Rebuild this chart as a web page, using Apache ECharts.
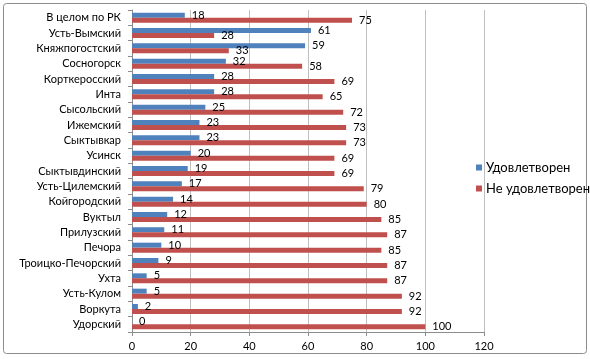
<!DOCTYPE html>
<html><head><meta charset="utf-8">
<script src="https://cdn.jsdelivr.net/npm/echarts@6/dist/echarts.min.js"></script>
<style>html,body{margin:0;padding:0;background:#fff}#c{width:590px;height:359px}</style>
</head><body><div id="c"></div>
<script>
const categories = ["В целом по РК","Усть-Вымский","Княжпогостский","Сосногорск","Корткеросский","Инта","Сысольский","Ижемский","Сыктывкар","Усинск","Сыктывдинский","Усть-Цилемский","Койгородский","Вуктыл","Прилузский","Печора","Троицко-Печорский","Ухта","Усть-Кулом","Воркута","Удорский"];
const satisfied = [18,61,59,32,28,28,25,23,23,20,19,17,14,12,11,10,9,5,5,2,0];
const notSatisfied = [75,28,33,58,69,65,72,73,73,69,69,79,80,85,87,85,87,87,92,92,100];
const xTicks = {min:0, max:120, interval:20};
const FONT = 'Lato';
const chart = echarts.init(document.getElementById('c'));
chart.setOption({
  animation:false,
  textStyle:{fontFamily:FONT},
  graphic:[{type:'rect',shape:{x:3.5,y:3.5,width:583,height:350,r:3},style:{fill:'none',stroke:'#8c8c8c',lineWidth:1},silent:true}],
  grid:{left:132,right:106,top:10,bottom:27},
  legend:{orient:'vertical',left:476,top:161,padding:0,itemWidth:6,itemHeight:6,itemGap:8,icon:'rect',
    textStyle:{fontFamily:FONT,fontSize:13,color:'#000',padding:[0,0,0,-1]},
    data:['Удовлетворен','Не удовлетворен']},
  xAxis:{type:'value',min:xTicks.min,max:xTicks.max,interval:xTicks.interval,
    axisLine:{show:true,lineStyle:{color:'#8c8c8c'}},
    axisTick:{show:true,length:4,lineStyle:{color:'#8c8c8c'}},
    splitLine:{show:true,lineStyle:{color:'#bfbfbf'}},
    axisLabel:{fontFamily:FONT,fontSize:11,color:'#000',margin:9}},
  yAxis:{type:'category',inverse:true,data:categories,
    axisLine:{show:true,lineStyle:{color:'#8c8c8c'}},
    axisTick:{show:true,length:4,lineStyle:{color:'#8c8c8c'}},
    axisLabel:{fontFamily:FONT,fontSize:11,color:'#000',margin:11,interval:0}},
  series:[
    {name:'Удовлетворен',type:'bar',data:satisfied,barWidth:5,barGap:'0%',
     itemStyle:{color:'#4f81bd'},
     label:{show:true,position:'right',distance:7,fontFamily:FONT,fontSize:11,color:'#000'}},
    {name:'Не удовлетворен',type:'bar',data:notSatisfied,barWidth:5,barGap:'0%',
     itemStyle:{color:'#c0504d'},
     label:{show:true,position:'right',distance:7,fontFamily:FONT,fontSize:11,color:'#000'}}
  ]
});
</script></body></html>
